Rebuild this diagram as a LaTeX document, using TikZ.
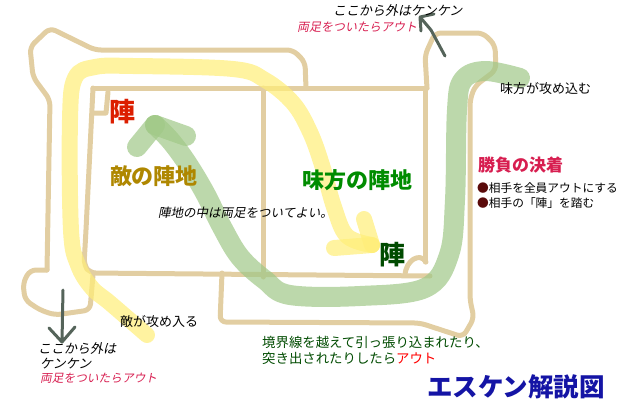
\documentclass[tikz,border=0pt]{standalone}
\usepackage{fontspec}
\setmainfont{Noto Sans CJK JP}
\newfontfamily\jpit[FakeSlant=0.2]{Noto Sans CJK JP}
\usepackage{tikz}
\usetikzlibrary{calc}

\definecolor{lineTan}{RGB}{226,206,162}
\definecolor{bandYellow}{RGB}{255,238,120}
\definecolor{bandGreen}{RGB}{160,200,135}
\definecolor{outRed}{RGB}{215,30,80}
\definecolor{arrowGray}{RGB}{85,100,90}
\definecolor{enemyGold}{RGB}{175,135,0}
\definecolor{ownGreen}{RGB}{0,140,0}
\definecolor{darkGreen}{RGB}{0,75,0}
\definecolor{titleBlue}{RGB}{20,20,165}
\definecolor{jinRed}{RGB}{220,30,0}
\definecolor{bulletBrown}{RGB}{90,10,10}

\tikzset{
  border/.style={lineTan, line width=5pt, line cap=round, line join=round, rounded corners=6pt},
  band/.style={line width=#1, line cap=round, line join=round, opacity=0.7},
  txt/.style={inner sep=0pt, anchor=west},
  small/.style={font=\fontsize{13}{15}\selectfont},
}

\begin{document}
\begin{tikzpicture}[x=1pt, y=-1pt]
    \useasboundingbox (0,0) rectangle (625,407);

    % draw outer boundary
    \draw[border] (47,270) -- (50,100) -- (33,77) -- (30,47) -- (50,28) -- (95,50)
        -- (293,50) -- (305,62) -- (306,88);
    \draw[border] (427,88) -- (425,55) -- (435,33) -- (483,33) -- (495,45) -- (496,70)
        -- (475,86) -- (470,100) -- (470,300) -- (474,318) -- (463,337) -- (420,323)
        -- (220,322) -- (222,273);
    % draw bottom-left loop
    \draw[border] (47,270) -- (30,270) -- (23,283) -- (25,300) -- (40,310) -- (55,315)
        -- (90,310) -- (93,275);

    % draw inner squares
    \draw[border] (93,88) -- (427,88);
    \draw[border] (93,88) -- (86,230) -- (84,265) -- (90,273) -- (430,276);
    \draw[border] (263,88) -- (263,277);
    \draw[border] (425,88) -- (425,262);
    \draw[border, rounded corners=0pt] (405,275) .. controls (406,260) and (420,252) .. (426,262);
    \draw[border, rounded corners=0pt] (93,113) -- (106,113) -- (108,92);

    % draw yellow band (enemy attack)
    \draw[band=16pt, bandYellow] plot[smooth, tension=0.6] coordinates {
        (147,335) (110,303) (92,288) (78,265) (71,230) (70,120) (75,78) (95,67)
        (133,66) (233,69) (265,80) (293,103) (310,132) (322,165) (334,207) (347,236) (372,245)};
    \draw[band=16pt, bandYellow] (372,245) -- (364,219);
    \draw[band=16pt, bandYellow] (372,245) -- (334,248);

    % draw green band (own attack)
    \draw[band=20pt, bandGreen] plot[smooth, tension=0.6] coordinates {
        (520,78) (485,71) (463,80) (457,110) (455,200) (449,255) (425,288) (360,296)
        (290,295) (265,280) (240,257) (222,227) (205,193) (187,163) (170,140) (155,125)};
    \draw[band=20pt, bandGreen] (155,125) -- (137,147);
    \draw[band=20pt, bandGreen] (155,125) -- (186,136);

    % draw small gray arrows
    \draw[arrowGray, line width=3pt, line cap=round, line join=round]
        (445,56) -- (431,30) -- (420,17) (434,14) -- (420,17) -- (421,31);
    \draw[arrowGray, line width=3pt, line cap=round, line join=round]
        (63,290) -- (62,342) (49,328) -- (62,342) -- (75,327);

    % draw nodes
    \node[txt, small] (kenTop) at (333,11) {\jpit ここから外はケンケン};
    \node[txt, outRed, font=\fontsize{12}{14}\selectfont] (outTop) at (297,27) {\jpit 両足をついたらアウト};
    \node[txt, small] (attackOwn) at (500,89) {味方が攻め込む};
    \node[jinRed, inner sep=0pt, font=\fontsize{26}{28}\selectfont\bfseries] (jinEnemy) at (122,112) {陣};
    \node[enemyGold, inner sep=0pt, font=\fontsize{22}{24}\selectfont\bfseries] (enemyArea) at (154,176) {敵の陣地};
    \node[ownGreen, inner sep=0pt, font=\fontsize{22}{24}\selectfont\bfseries] (ownArea) at (357,180) {味方の陣地};
    \node[txt, font=\fontsize{12.5}{14}\selectfont] (inside) at (158,213) {\jpit 陣地の中は両足をついてよい。};
    \node[darkGreen, inner sep=0pt, font=\fontsize{26}{28}\selectfont\bfseries] (jinOwn) at (392,255) {陣};

    \node[txt, outRed, font=\fontsize{17}{19}\selectfont\bfseries] (resultTitle) at (478,165) {勝負の決着};
    \node[txt, font=\fontsize{11.7}{13}\selectfont] (resultA) at (477,188) {{\color{bulletBrown}●}相手を全員アウトにする};
    \node[txt, font=\fontsize{11.7}{13}\selectfont] (resultB) at (477,203) {{\color{bulletBrown}●}相手の「陣」を踏む};

    \node[txt, small] (attackEnemy) at (120,322) {敵が攻め入る};
    \node[txt, small] (kenBotA) at (38,349) {\jpit ここから外は};
    \node[txt, small] (kenBotB) at (40,364) {\jpit ケンケン};
    \node[txt, outRed, font=\fontsize{11.7}{13}\selectfont] (outBot) at (40,378) {\jpit 両足をついたらアウト};

    \node[txt, darkGreen, font=\fontsize{13.4}{15}\selectfont] (ruleA) at (262,342) {境界線を越えて引っ張り込まれたり、};
    \node[txt, darkGreen, font=\fontsize{13.4}{15}\selectfont] (ruleB) at (262,358) {突き出されたりしたら{\color{red}アウト}};

    \node[txt, titleBlue, font=\fontsize{25.5}{28}\selectfont\bfseries] (mainTitle) at (427,387) {エスケン解説図};

\end{tikzpicture}
\end{document}
